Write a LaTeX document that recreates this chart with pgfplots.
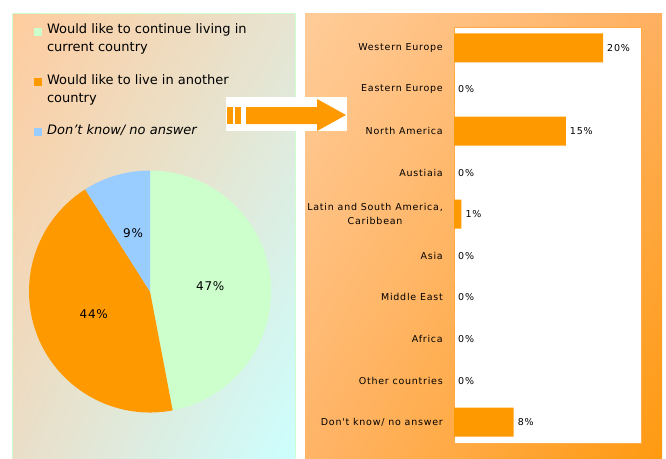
\documentclass[border=0pt]{standalone}
\usepackage{pgfplots}
\pgfplotsset{compat=1.18}
\usetikzlibrary{shadings}
\usepackage{fontspec}
\setmainfont{DejaVu Sans}
\newfontfamily\barfont[LetterSpace=8]{DejaVu Sans}
\newfontfamily\piefont[LetterSpace=6]{DejaVu Sans}

\definecolor{pgreen}{HTML}{CCFFCC}
\definecolor{porange}{HTML}{FF9900}
\definecolor{pblue}{HTML}{99CCFF}
\definecolor{frameor}{HTML}{FFAA44}
\definecolor{lpUL}{HTML}{FFCC9E}
\definecolor{lpUR}{HTML}{E6E4D2}
\definecolor{lpLL}{HTML}{EADEC8}
\definecolor{lpLR}{HTML}{CCFFFF}
\definecolor{rpUL}{HTML}{FFCC99}
\definecolor{rpUR}{HTML}{FFB060}
\definecolor{rpLL}{HTML}{FFB468}
\definecolor{rpLR}{HTML}{FF9A10}

% start (in %), value (in %), colour
\newcommand\pieslice[3]{%
  \fill[#3] (0,0) -- ({cos(90-3.6*#1)},{sin(90-3.6*#1)})
    arc[start angle={90-3.6*#1}, end angle={90-3.6*(#1+#2)}, radius=121pt] -- cycle;
  \node[font=\piefont\fontsize{12}{12}\selectfont]
    at ({0.5*cos(90-3.6*(#1+#2/2))},{0.5*sin(90-3.6*(#1+#2/2))}) {#2\%};
}

\begin{document}
\begin{tikzpicture}
\path[use as bounding box] (0,0) rectangle (666pt,-458pt);

% panels
\shade[upper left=lpUL, upper right=lpUR, lower left=lpLL, lower right=lpLR]
  (12pt,-13pt) rectangle (295pt,-458pt);
\draw[pgreen] (12pt,-458pt) -- (12pt,-13pt) -- (295pt,-13pt) -- (295pt,-458pt);
\shade[upper left=rpUL, upper right=rpUR, lower left=rpLL, lower right=rpLR]
  (305pt,-13pt) rectangle (662pt,-458pt);

% arrow
\fill[white] (226pt,-97pt) rectangle (347pt,-131pt);
\fill[porange] (227pt,-107pt) rectangle (233pt,-124pt);
\fill[porange] (235pt,-107pt) rectangle (241pt,-124pt);
\fill[porange] (246pt,-107pt) -- (317pt,-107pt) -- (317pt,-99pt) -- (346pt,-115pt)
  -- (317pt,-131pt) -- (317pt,-124pt) -- (246pt,-124pt) -- cycle;

% pie
\begin{axis}[
  at={(150pt,-291.5pt)}, anchor=center,
  width=242pt, height=242pt, scale only axis,
  xmin=-1, xmax=1, ymin=-1, ymax=1,
  hide axis,
  legend image code/.code={\fill[#1, draw=none] (0pt,-4pt) rectangle (8pt,4pt);
    \path[draw=none, fill=none] (0pt,0pt) -- (11pt,0pt);},
  legend style={at={(axis description cs:0.02,1.615)}, anchor=north west,
    draw=none, fill=none, font=\fontsize{13}{18}\selectfont,
    cells={align=left, anchor=west}, row sep=17pt, inner sep=0pt},
]
\pieslice{0}{47}{pgreen}
\pieslice{47}{44}{porange}
\pieslice{91}{9}{pblue}
\addlegendimage{fill=pgreen, yshift=7pt}
\addlegendentry{Would like to continue living in\\current country}
\addlegendimage{fill=porange, yshift=7pt}
\addlegendentry{Would like to live in another\\country}
\addlegendimage{fill=pblue, yshift=-2pt}
\addlegendentry{\itshape Don't know/ no answer}
\end{axis}

% destinations
\begin{axis}[
  at={(454pt,-27pt)}, anchor=north west,
  width=187pt, height=416pt, scale only axis,
  xbar, bar width=29pt,
  xmin=0, xmax=25.1, ymin=-0.5, ymax=9.5, y dir=reverse,
  xtick=\empty, ytick={0,...,9},
  yticklabels={Western Europe, Eastern Europe, North America, Austiaia,
    {Latin and South America,\\Caribbean}, Asia, Middle East, Africa,
    Other countries, Don't know/ no answer},
  major tick length=0pt,
  yticklabel style={font=\barfont\fontsize{9.5}{14}\selectfont, align=center, inner sep=0pt, xshift=-11pt},
  axis background/.style={fill=white},
  axis line style={draw=frameor},
  point meta=x,
  /pgf/number format/assume math mode=true,
  nodes near coords={\pgfmathprintnumber{\pgfplotspointmeta}\%},
  nodes near coords style={font=\barfont\fontsize{9.5}{11}\selectfont, anchor=west, inner sep=2pt, xshift=2pt},
]
\addplot[fill=porange, draw=none] coordinates {
  (20,0) (0,1) (15,2) (0,3) (1,4) (0,5) (0,6) (0,7) (0,8) (8,9)
};
\end{axis}
\end{tikzpicture}
\end{document}
